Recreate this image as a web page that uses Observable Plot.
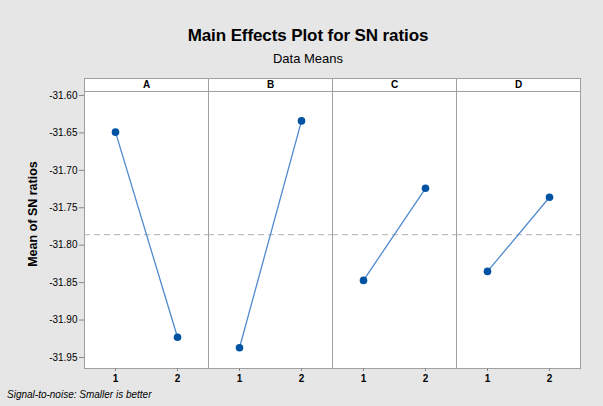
<!DOCTYPE html>
<html>
<head>
<meta charset="utf-8">
<script src="https://cdn.jsdelivr.net/npm/d3@7"></script>
<script src="https://cdn.jsdelivr.net/npm/@observablehq/plot@0.6"></script>
<style>
  html, body { margin: 0; padding: 0; background: #e6e6e6; }
  #wrap { position: relative; width: 603px; height: 406px; background: #e6e6e6; font-family: "Liberation Sans", Arial, sans-serif; overflow: hidden; }
  #wrap svg { position: absolute; left: 0; top: 0; }
  .title { position: absolute; left: 0; width: 616px; text-align: center; top: 26px; font-size: 17px; font-weight: bold; letter-spacing: -0.1px; color: #000; }
  .subtitle { position: absolute; left: 0; width: 616px; text-align: center; top: 51px; font-size: 13px; color: #000; }
  .ylabel { position: absolute; left: 33px; top: 214px; transform: translate(-50%, -50%) rotate(-90deg); font-size: 12.5px; font-weight: bold; white-space: nowrap; color: #000; }
  .caption { position: absolute; left: 7px; top: 389px; font-size: 10px; font-style: italic; color: #000; white-space: nowrap; }
</style>
</head>
<body>
<div id="wrap">
  <div class="title">Main Effects Plot for SN ratios</div>
  <div class="subtitle">Data Means</div>
  <div class="ylabel">Mean of SN ratios</div>
  <div class="caption">Signal-to-noise: Smaller is better</div>
</div>
<script>
const factors = ["A", "B", "C", "D"];
const levels = [1, 2];
const snA = [-31.649, -31.923];
const snB = [-31.937, -31.634];
const snC = [-31.847, -31.724];
const snD = [-31.835, -31.736];
const yTicks = [-31.60, -31.65, -31.70, -31.75, -31.80, -31.85, -31.90, -31.95];
const grandMean = -31.786;

const series = [snA, snB, snC, snD];
const rows = [];
factors.forEach((f, i) => levels.forEach((lv, j) => rows.push({factor: f, level: lv, value: series[i][j]})));

const yTop = -31.5947;
const yBottom = -31.9647;

const chart = Plot.plot({
  width: 603,
  height: 406,
  marginTop: 78,
  marginBottom: 38,
  marginLeft: 83,
  marginRight: 22,
  style: {background: "transparent", fontFamily: "Liberation Sans, Arial, sans-serif", fontSize: "10px", color: "#000"},
  fx: {padding: 0, axis: null, domain: factors},
  x: {type: "point", domain: levels, padding: 0.5},
  y: {domain: [yBottom, yTop], range: [368, 91]},
  marks: [
    Plot.frame({fill: "white", stroke: null}),
    Plot.ruleY([yTop], {stroke: "#a0a0a0"}),
    Plot.frame({stroke: "#a0a0a0"}),
    Plot.text(factors, {fx: d => d, text: d => d, frameAnchor: "top", dy: 2, fontWeight: "bold", fontSize: 10}),
    Plot.ruleY([grandMean], {stroke: "#b0b0b0", strokeDasharray: "6,4", strokeWidth: 1}),
    Plot.line(rows, {fx: "factor", x: "level", y: "value", stroke: "#5089cc", strokeWidth: 1.3}),
    Plot.dot(rows, {fx: "factor", x: "level", y: "value", fill: "#0052a3", r: 3.8}),
    Plot.axisX({ticks: levels, tickFormat: d => String(d), tickSize: 3, tickPadding: 3, stroke: "#888", fontWeight: "bold", label: null}),
    Plot.axisY({ticks: yTicks, tickFormat: d => d.toFixed(2), tickSize: 5, tickPadding: 2, stroke: "#888", label: null})
  ]
});
document.getElementById("wrap").prepend(chart);
</script>
</body>
</html>
